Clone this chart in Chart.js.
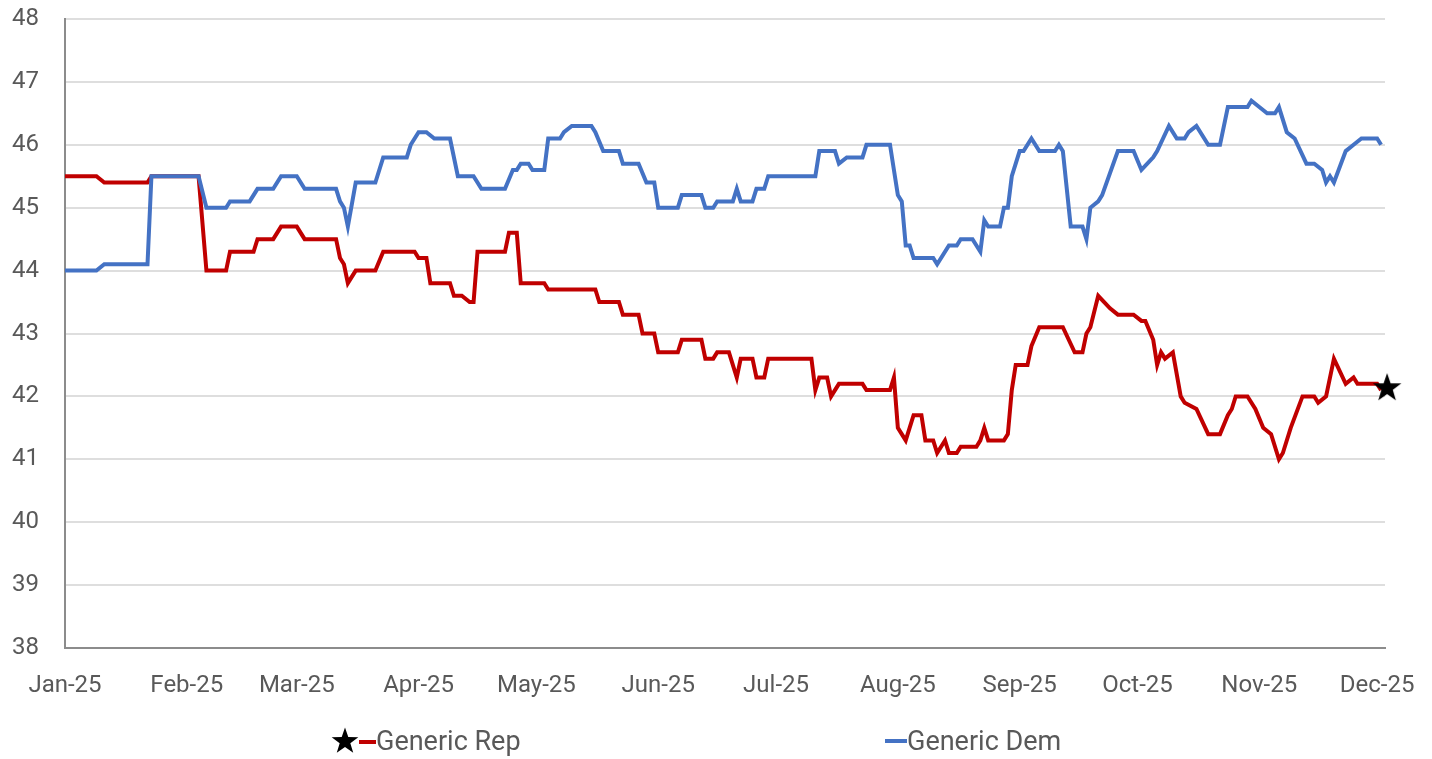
<!DOCTYPE html>
<html>
<head>
<meta charset="utf-8">
<script src="https://cdn.jsdelivr.net/npm/chart.js@4"></script>
<style>
  body { margin: 0; background: #fff; }
  #wrap { position: relative; width: 1432px; height: 759px; }
  .leg { position: absolute; font-family: Roboto, "Liberation Sans", sans-serif; font-size: 27px; line-height: 27px; color: #595959; white-space: nowrap; }
  .swatch { position: absolute; height: 4px; }
</style>
</head>
<body>
<div id="wrap">
  <canvas id="chart" width="1432" height="759"></canvas>
  <svg style="position:absolute;left:331px;top:727px" width="28" height="28" viewBox="0 0 28 28">
    <polygon id="legStar" fill="#000"></polygon>
  </svg>
  <div class="swatch" style="left:359px;top:740px;width:17px;background:#c00000"></div>
  <div class="leg" style="left:376px;top:728px">Generic Rep</div>
  <div class="swatch" style="left:885px;top:739px;width:22px;background:#4472c4"></div>
  <div class="leg" style="left:907px;top:728px">Generic Dem</div>
</div>
<script>
// x = day of year (0 = 1 Jan 2025), read at each change of level
const repDays = [0, 8, 10, 21, 22, 34, 36, 41, 42, 48, 49, 53, 55, 59, 61, 69, 70, 71, 72, 74, 79, 81,
  89, 90, 92, 93, 98, 99, 101, 103, 104, 105, 112, 113, 115, 116, 122, 123, 135, 136, 141, 142, 146, 147,
  150, 151, 156, 157, 162, 163, 165, 166, 169, 171, 172, 175, 176, 178, 179, 190, 191, 192, 194, 195, 197,
  203, 204, 210, 211, 212, 213, 214, 216, 218, 219, 221, 222, 224, 225, 227, 228, 232, 233, 234, 235, 239,
  240, 241, 242, 245, 246, 248, 254, 257, 259, 260, 261, 263, 266, 268, 272, 274, 275, 277, 278, 279, 280,
  282, 284, 285, 288, 291, 294, 296, 297, 298, 301, 303, 305, 307, 309, 310, 312, 315, 318, 319, 321, 323,
  326, 328, 329, 334, 335]
const repValues = [45.5, 45.5, 45.4, 45.4, 45.5, 45.5, 44.0, 44.0, 44.3, 44.3, 44.5, 44.5, 44.7, 44.7, 44.5,
  44.5, 44.2, 44.1, 43.8, 44.0, 44.0, 44.3, 44.3, 44.2, 44.2, 43.8, 43.8, 43.6, 43.6, 43.5, 43.5, 44.3, 44.3,
  44.6, 44.6, 43.8, 43.8, 43.7, 43.7, 43.5, 43.5, 43.3, 43.3, 43.0, 43.0, 42.7, 42.7, 42.9, 42.9, 42.6, 42.6,
  42.7, 42.7, 42.3, 42.6, 42.6, 42.3, 42.3, 42.6, 42.6, 42.1, 42.3, 42.3, 42.0, 42.2, 42.2, 42.1, 42.1, 42.3,
  41.5, 41.4, 41.3, 41.7, 41.7, 41.3, 41.3, 41.1, 41.3, 41.1, 41.1, 41.2, 41.2, 41.3, 41.5, 41.3, 41.3, 41.4,
  42.1, 42.5, 42.5, 42.8, 43.1, 43.1, 42.7, 42.7, 43.0, 43.1, 43.6, 43.4, 43.3, 43.3, 43.2, 43.2, 42.9, 42.5,
  42.7, 42.6, 42.7, 42.0, 41.9, 41.8, 41.4, 41.4, 41.7, 41.8, 42.0, 42.0, 41.8, 41.5, 41.4, 41.0, 41.1, 41.5,
  42.0, 42.0, 41.9, 42.0, 42.6, 42.2, 42.3, 42.2, 42.2, 42.1]

const demDays = [0, 8, 10, 21, 22, 34, 36, 41, 42, 47, 49, 53, 55, 59, 61, 69, 70, 71, 72, 74, 79, 81, 87,
  88, 90, 92, 94, 98, 100, 104, 106, 112, 114, 115, 116, 118, 119, 122, 123, 126, 127, 129, 134, 135, 137,
  141, 142, 146, 148, 150, 151, 156, 157, 162, 163, 165, 166, 170, 171, 172, 175, 176, 178, 179, 191, 192,
  196, 197, 199, 203, 204, 210, 211, 212, 213, 214, 215, 216, 221, 222, 225, 227, 228, 231, 233, 234, 235,
  238, 239, 240, 241, 243, 244, 246, 248, 252, 253, 254, 256, 259, 260, 261, 263, 264, 268, 272, 274, 277,
  278, 281, 283, 285, 286, 288, 291, 294, 296, 301, 302, 304, 306, 308, 309, 311, 313, 316, 318, 320, 321,
  322, 323, 326, 328, 330, 334, 335]
const demValues = [44.0, 44.0, 44.1, 44.1, 45.5, 45.5, 45.0, 45.0, 45.1, 45.1, 45.3, 45.3, 45.5, 45.5, 45.3,
  45.3, 45.1, 45.0, 44.7, 45.4, 45.4, 45.8, 45.8, 46.0, 46.2, 46.2, 46.1, 46.1, 45.5, 45.5, 45.3, 45.3, 45.6,
  45.6, 45.7, 45.7, 45.6, 45.6, 46.1, 46.1, 46.2, 46.3, 46.3, 46.2, 45.9, 45.9, 45.7, 45.7, 45.4, 45.4, 45.0,
  45.0, 45.2, 45.2, 45.0, 45.0, 45.1, 45.1, 45.3, 45.1, 45.1, 45.3, 45.3, 45.5, 45.5, 45.9, 45.9, 45.7, 45.8,
  45.8, 46.0, 46.0, 45.6, 45.2, 45.1, 44.4, 44.4, 44.2, 44.2, 44.1, 44.4, 44.4, 44.5, 44.5, 44.3, 44.8, 44.7,
  44.7, 45.0, 45.0, 45.5, 45.9, 45.9, 46.1, 45.9, 45.9, 46.0, 45.9, 44.7, 44.7, 44.5, 45.0, 45.1, 45.2, 45.9,
  45.9, 45.6, 45.8, 45.9, 46.3, 46.1, 46.1, 46.2, 46.3, 46.0, 46.0, 46.6, 46.6, 46.7, 46.6, 46.5, 46.5, 46.6,
  46.2, 46.1, 45.7, 45.7, 45.6, 45.4, 45.5, 45.4, 45.9, 46.0, 46.1, 46.1, 46.0]

const monthStarts = [0, 31, 59, 90, 120, 151, 181, 212, 243, 273, 304, 334]
const monthLabels = ['Jan-25', 'Feb-25', 'Mar-25', 'Apr-25', 'May-25', 'Jun-25', 'Jul-25', 'Aug-25',
  'Sep-25', 'Oct-25', 'Nov-25', 'Dec-25']

function starPoints(cx, cy, outer, inner) {
  const pts = []
  for (let i = 0; i < 10; i++) {
    const r = i % 2 == 0 ? outer : inner
    const a = -Math.PI / 2 + i * Math.PI / 5
    pts.push([cx + r * Math.cos(a), cy + r * Math.sin(a)])
  }
  return pts
}

document.getElementById('legStar').setAttribute('points',
  starPoints(14, 14.5, 14, 5.6).map(p => p.join(',')).join(' '))

// filled star used as the marker on the last Rep value (drawn a little right of the point, as in the source)
const star = document.createElement('canvas')
star.width = 44
star.height = 36
const sctx = star.getContext('2d')
sctx.fillStyle = '#000'
sctx.beginPath()
starPoints(28, 16, 15, 6).forEach((p, i) => i ? sctx.lineTo(p[0], p[1]) : sctx.moveTo(p[0], p[1]))
sctx.closePath()
sctx.fill()

const rep = repDays.map((d, i) => ({ x: d, y: repValues[i] }))
const dem = demDays.map((d, i) => ({ x: d, y: demValues[i] }))
const lastRep = rep.length - 1

const tickFont = { family: 'Roboto, "Liberation Sans", sans-serif', size: 24 }

const config = {
  type: 'line',
  data: {
    datasets: [{
      label: 'Generic Rep',
      data: rep,
      borderColor: '#c00000',
      borderWidth: 4,
      tension: 0,
      order: 1,
      clip: false,
      pointRadius: ctx => ctx.dataIndex === lastRep ? 8 : 0,
      pointStyle: ctx => ctx.dataIndex === lastRep ? star : 'circle',
      pointHoverRadius: 0
    }, {
      label: 'Generic Dem',
      data: dem,
      borderColor: '#4472c4',
      borderWidth: 4,
      tension: 0,
      order: 0,
      pointRadius: 0
    }]
  },
  options: {
    responsive: false,
    animation: false,
    layout: { padding: { left: 0, right: 47, top: 19, bottom: 0 } },
    plugins: { legend: { display: false }, tooltip: { enabled: false } },
    scales: {
      x: {
        type: 'linear',
        min: 0,
        max: 336,
        afterFit: s => { s.height = 111 },
        afterBuildTicks: s => { s.ticks = monthStarts.map(v => ({ value: v })) },
        grid: { display: false },
        border: { display: true, color: '#8c8c8c', width: 2 },
        ticks: {
          autoSkip: false,
          maxRotation: 0,
          padding: 16,
          color: '#595959',
          font: tickFont,
          callback: v => monthLabels[monthStarts.indexOf(v)]
        }
      },
      y: {
        min: 38,
        max: 48,
        afterFit: s => { s.width = 65; s.paddingTop = 0; s.paddingBottom = 0 },
        grid: { color: '#dedede', lineWidth: 2, drawTicks: false },
        border: { display: true, color: '#8c8c8c', width: 2 },
        ticks: { stepSize: 1, padding: 26, color: '#595959', font: tickFont }
      }
    }
  }
}

const chart = new Chart(document.getElementById('chart'), config)
</script>
</body>
</html>
